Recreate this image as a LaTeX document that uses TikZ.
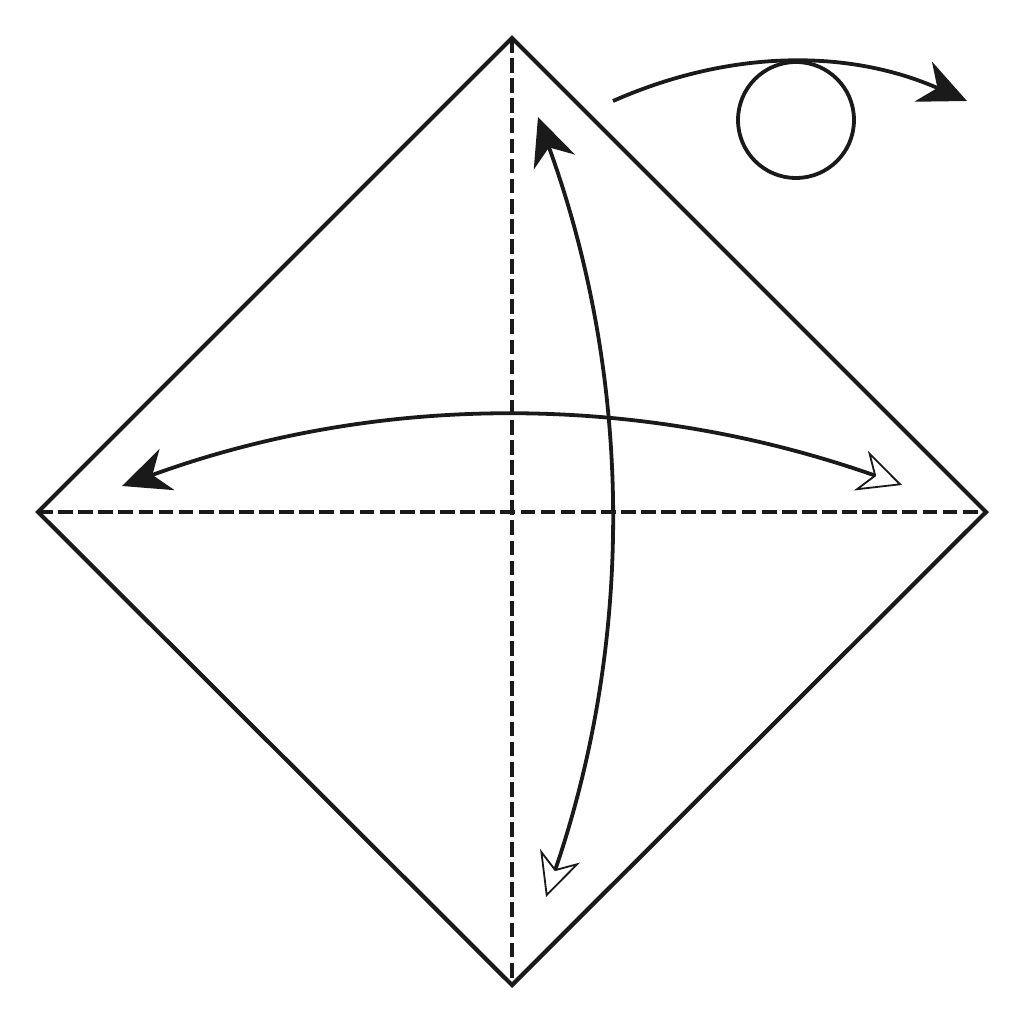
\documentclass[tikz,border=0pt]{standalone}
\usetikzlibrary{arrows.meta}
\definecolor{ink}{HTML}{1A1A1A}
\begin{document}
\begin{tikzpicture}[x=0.25mm,y=-0.25mm,
  edge/.style={draw=ink,line width=3pt,line join=miter},
  crease/.style={draw=ink,line width=2.8pt,dash pattern=on 10.5pt off 3.8pt},
  move/.style={draw=ink,line width=2.7pt},
  solidhead/.style={-{Stealth[length=34pt,width=31pt,inset=11pt,fill=ink]}},
  bothhead/.style={{Stealth[length=34pt,width=31pt,inset=11pt,fill=ink]}-{Stealth[open,length=31pt,width=30pt,inset=10pt,line width=1.3pt]}}]
\useasboundingbox (0,0) rectangle (1024,1024);
\coordinate (T) at (512,38);
\coordinate (L) at (38,512);
\coordinate (R) at (986,512);
\coordinate (B) at (512,985);
\draw[edge] (T) -- (R) -- (B) -- (L) -- cycle;
\draw[crease] (T) -- (B);
\draw[crease] (L) -- (R);
% horizontal fold-and-unfold arrow
\coordinate (hl) at (122,486);
\coordinate (hr) at (902,485);
\draw[move,bothhead] (hl) .. controls (377,393) and (637,392) .. (hr);
% vertical fold-and-unfold arrow
\coordinate (vt) at (538,117);
\coordinate (vb) at (546,897);
\draw[move,bothhead] (vt) .. controls (632,376) and (635,636) .. (vb);
% turn over symbol
\node[draw=ink,circle,line width=2.7pt,minimum size=116*0.25mm,inner sep=0pt] (circ) at (796,120) {};
\coordinate (ts) at (613,101);
\coordinate (te) at (967,101);
\draw[move,solidhead] (ts) .. controls (731,49) and (849,49) .. (te);
\end{tikzpicture}
\end{document}
